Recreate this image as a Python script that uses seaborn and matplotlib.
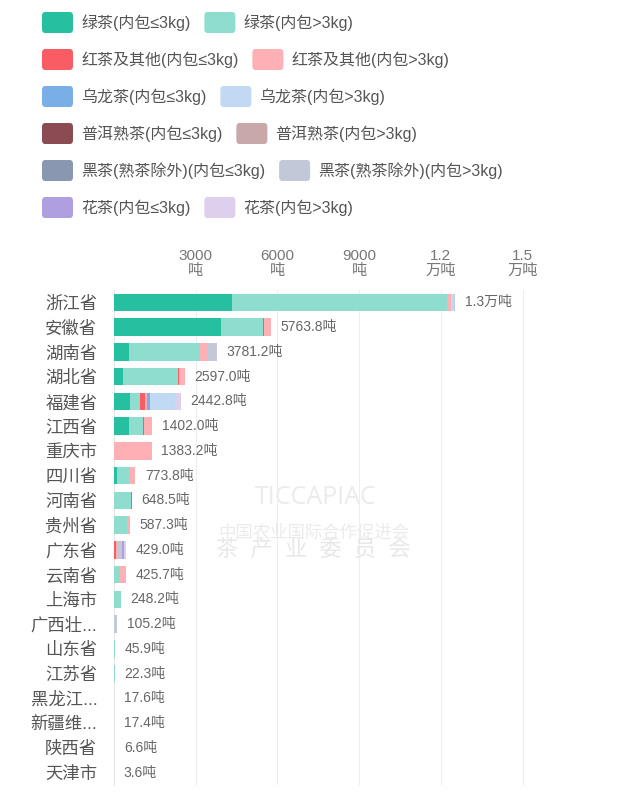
"""
各省茶叶出口量（按茶类及内包装规格）堆叠横向条形图
"""

import numpy as np
import pandas as pd
import matplotlib
matplotlib.use('Agg')
import matplotlib.pyplot as plt
from matplotlib.patches import FancyBboxPatch
import seaborn as sns

# 省份（从上到下）
provinces = ['浙江省', '安徽省', '湖南省', '湖北省', '福建省', '江西省', '重庆市',
             '四川省', '河南省', '贵州省', '广东省', '云南省', '上海市', '广西壮...',
             '山东省', '江苏省', '黑龙江...', '新疆维...', '陕西省', '天津市']

# 各茶类数值（吨）
green_small = [4330, 3920, 550, 340, 590, 560, 0, 120, 0, 0, 0, 0, 0, 0, 0, 0, 0, 0, 0, 0]
green_large = [7880, 1560, 2611.2, 2000, 360, 520, 0, 450, 620, 460, 0, 230, 248.2, 0, 45.9, 22.3, 0, 0, 0, 0]
red_small = [0, 30, 0, 50, 190, 30, 0, 0, 28.5, 30, 70, 0, 0, 0, 0, 0, 0, 0, 0, 0]
red_large = [150, 253.8, 270, 207, 80, 292, 1383.2, 203.8, 0, 97.3, 80, 195.7, 0, 0, 0, 0, 0, 0, 0, 0]
oolong_small = [0, 0, 0, 0, 100, 0, 0, 0, 0, 0, 0, 0, 0, 0, 0, 0, 0, 0, 0, 0]
oolong_large = [120, 0, 0, 0, 920, 0, 0, 0, 0, 0, 0, 0, 0, 0, 0, 0, 0, 0, 0, 0]
puer_small = [0] * 20
puer_large = [0] * 20
dark_small = [0] * 20
dark_large = [50, 0, 350, 0, 0, 0, 0, 0, 0, 0, 130, 0, 0, 105.2, 0, 0, 17.6, 17.4, 6.6, 0]
flower_small = [0, 0, 0, 0, 0, 0, 0, 0, 0, 0, 80, 0, 0, 0, 0, 0, 0, 0, 0, 0]
flower_large = [0, 0, 0, 0, 202.8, 0, 0, 0, 0, 0, 69, 0, 0, 0, 0, 0, 0, 0, 0, 3.6]

series_names = ['绿茶(内包≤3kg)', '绿茶(内包>3kg)',
                '红茶及其他(内包≤3kg)', '红茶及其他(内包>3kg)',
                '乌龙茶(内包≤3kg)', '乌龙茶(内包>3kg)',
                '普洱熟茶(内包≤3kg)', '普洱熟茶(内包>3kg)',
                '黑茶(熟茶除外)(内包≤3kg)', '黑茶(熟茶除外)(内包>3kg)',
                '花茶(内包≤3kg)', '花茶(内包>3kg)']
colors = ['#26BFA0', '#8EDDCF', '#F95C62', '#FEB0B4', '#7AAEE6', '#C2D9F3',
          '#8B4B53', '#C8A8A8', '#8A97B0', '#C3C8D9', '#AF9FE0', '#DCD0EC']

tick_vals = [3000, 6000, 9000, 12000, 15000]
tick_labels = ['3000\n吨', '6000\n吨', '9000\n吨', '1.2\n万吨', '1.5\n万吨']

df = pd.DataFrame(
    np.array([green_small, green_large, red_small, red_large, oolong_small, oolong_large,
              puer_small, puer_large, dark_small, dark_large, flower_small, flower_large]).T,
    index=provinces, columns=series_names)
cum = df.cumsum(axis=1)
totals = df.sum(axis=1)

sns.set_style('white')
plt.rcParams['font.family'] = ['Liberation Sans', 'Noto Sans CJK SC', 'DejaVu Sans']

fig = plt.figure(figsize=(6.35, 8), dpi=100)
ax = fig.add_axes([114 / 635, 1 - 785 / 800, 414 / 635, 495 / 800])

# 水印
wm = '#EBEBEB'
fig.text(316 / 635, 1 - 497 / 800, 'TICCAPIAC', ha='center', va='center',
         fontsize=18, color=wm, family=['Open Sans', 'DejaVu Sans'], zorder=0)
fig.text(314 / 635, 1 - 532 / 800, '中国农业国际合作促进会', ha='center', va='center',
         fontsize=12.5, color=wm, zorder=0)
fig.text(313 / 635, 1 - 551 / 800, '茶  产  业  委  员  会', ha='center', va='center',
         fontsize=16, color='#E8E8E8', zorder=0)

# 堆叠：先画总量，后画靠前的分段覆盖
for name, c in reversed(list(zip(series_names, colors))):
    sns.barplot(x=cum[name].values, y=provinces, color=c, saturation=1,
                orient='h', width=0.7, ax=ax, zorder=3,
                linewidth=0, edgecolor='none')

for i, (p, t) in enumerate(totals.items()):
    label = f'{t / 10000:.1f}万吨' if t >= 10000 else f'{t:.1f}吨'
    ax.annotate(label, (t, i), xytext=(7, 0), textcoords='offset points',
                va='center', ha='left', fontsize=10, color='#666666')

ax.set_xlim(0, 15200)
ax.xaxis.tick_top()
ax.set_xticks(tick_vals)
ax.set_xticklabels(tick_labels, fontsize=11, color='#777777', linespacing=1.0)
ax.tick_params(axis='x', length=0, pad=9)
ax.tick_params(axis='y', length=0, pad=12, labelsize=12.5, labelcolor='#555555')
ax.set_xlabel('')
ax.set_ylabel('')
ax.grid(axis='x', color='#EEEEEE', linewidth=0.8, zorder=0)
ax.set_axisbelow(True)
for s in ['top', 'right', 'bottom']:
    ax.spines[s].set_visible(False)
ax.spines['left'].set_color('#E6E6E6')
ax.patch.set_alpha(0)

# 图例（两列，按文字宽度排布）
renderer = fig.canvas.get_renderer()
W, H = 635, 800
for row in range(6):
    yc = 22.5 + row * 37
    x = 42
    for col in range(2):
        k = row * 2 + col
        fig.patches.append(FancyBboxPatch(
            (x / W, (H - yc - 10.5) / H), 31 / W, 21 / H,
            boxstyle='round,pad=0,rounding_size=0.005', transform=fig.transFigure,
            facecolor=colors[k], edgecolor='none'))
        t = fig.text((x + 39) / W, 1 - yc / H, series_names[k], va='center', ha='left',
                     fontsize=11.5, color='#555555')
        bb = t.get_window_extent(renderer)
        x = bb.x1 + 14

fig.savefig('out.png', dpi=100)
